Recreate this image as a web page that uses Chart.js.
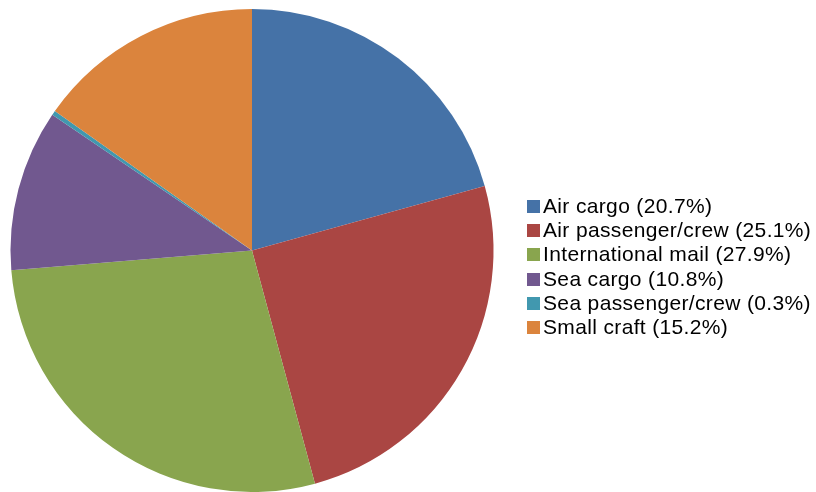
<!DOCTYPE html>
<html lang="en">
<head>
  <meta charset="UTF-8" />
  <title>Share by Channel</title>
  <script src="https://cdn.jsdelivr.net/npm/chart.js"></script>
  <style>
    html, body { margin: 0; padding: 0; background: #fff; }
    #wrap { position: relative; width: 816px; height: 492px; }
    #legend {
      position: absolute; left: 527px; top: 193.5px; margin: 0; padding: 0;
      list-style: none; font-family: "Liberation Sans", Arial, sans-serif;
      font-size: 21px; letter-spacing: 0.35px; color: #000;
    }
    #legend li { height: 24.4px; line-height: 24.4px; white-space: nowrap; }
    #legend span.box {
      display: inline-block; width: 13px; height: 13px; margin-right: 3px;
      vertical-align: baseline;
    }
  </style>
</head>
<body>
  <div id="wrap">
    <canvas id="pieChart" width="816" height="492"></canvas>
    <ul id="legend"></ul>
  </div>

  <script>
    const categories = ['Air cargo', 'Air passenger/crew', 'International mail', 'Sea cargo', 'Sea passenger/crew', 'Small craft'];
    const shares = [20.7, 25.1, 27.9, 10.8, 0.3, 15.2];
    const colors = ['#4572A7', '#AA4643', '#89A54E', '#71588F', '#4198AF', '#DB843D'];

    // legend built from the same arrays
    const legend = document.getElementById('legend');
    categories.forEach(function(name, i) {
      const li = document.createElement('li');
      li.innerHTML = '<span class="box" style="background:' + colors[i] + '"></span>' +
        name + ' (' + shares[i].toFixed(1) + '%)';
      legend.appendChild(li);
    });

    const ctx = document.getElementById('pieChart').getContext('2d');
    new Chart(ctx, {
      type: 'pie',
      data: {
        labels: categories,
        datasets: [{
          data: shares,
          backgroundColor: colors,
          borderWidth: 0
        }]
      },
      options: {
        responsive: false,
        animation: false,
        layout: { padding: { left: 10, right: 322, top: 9, bottom: 0 } },
        plugins: {
          legend: { display: false },
          tooltip: { enabled: false }
        }
      }
    });
  </script>
</body>
</html>
